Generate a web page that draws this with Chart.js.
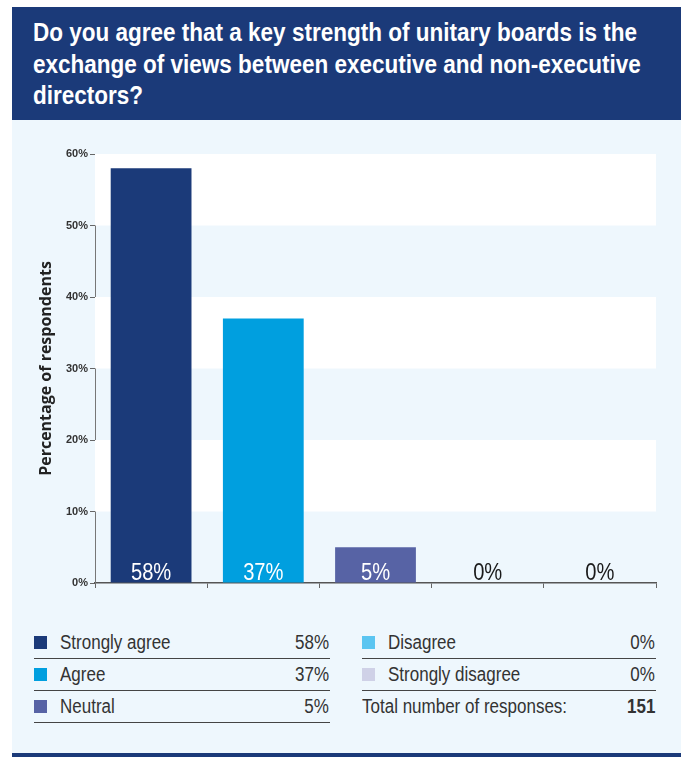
<!DOCTYPE html>
<html>
<head>
<meta charset="utf-8">
<script src="https://cdn.jsdelivr.net/npm/chart.js@4"></script>
<style>
  body { margin: 0; background: #fff; }
  #page { position: relative; width: 681px; height: 758px; font-family: "Liberation Sans", Arial, sans-serif; }
  #title { position: absolute; left: 12px; top: 7px; width: 669px; height: 113px; background: #1b3a79; color: #fff;
    font-weight: bold; font-size: 25px; line-height: 31.5px; box-sizing: border-box; padding: 10px 0 0 21px; overflow: hidden; }
  #title span { display: block; width: max-content; white-space: nowrap; transform-origin: left center; }
  #panel { position: absolute; left: 12px; top: 120px; width: 669px; height: 633px; background: #eef7fd; }
  #rule { position: absolute; left: 12px; top: 753px; width: 669px; height: 4px; background: #1b3a79; }
  #chartBox { position: absolute; left: 12px; top: 120px; width: 669px; height: 483px; }
  .col { position: absolute; top: 627px; }
  .row { position: relative; height: 31px; border-bottom: 1px solid #444; font-size: 20px; color: #333; }
  .row.last-plain { border-bottom: none; }
  .sw { position: absolute; left: 0; top: 9px; width: 13px; height: 13px; }
  .lbl { position: absolute; left: 26px; top: 4px; white-space: nowrap; transform: scaleX(0.85); transform-origin: left center; }
  .val { position: absolute; right: 1px; top: 4px; white-space: nowrap; transform: scaleX(0.85); transform-origin: right center; }
</style>
</head>
<body>
<div id="page">
  <div id="title"><span>Do you agree that a key strength of unitary boards is the</span><span>exchange of views between executive and non-executive</span><span>directors?</span></div>
  <div id="panel"></div>
  <div id="chartBox"><canvas id="chart"></canvas></div>
  <div class="col" id="leftCol" style="left:34px;width:296px;"></div>
  <div class="col" id="rightCol" style="left:362px;width:294px;"></div>
  <div id="rule"></div>
</div>
<script>
let categories = ["Strongly agree", "Agree", "Neutral", "Disagree", "Strongly disagree"];
let values = [58, 37, 5, 0, 0];
let yTicks = [0, 10, 20, 30, 40, 50, 60];
let totalResponses = 151;

let barColors = ["#1b3a79", "#009fdf", "#5763a5", "#5bc5f1", "#cfd1e7"];
let labelColors = ["#fff", "#fff", "#fff", "#1a1a1a", "#1a1a1a"];
let sans = '"Liberation Sans", Arial, sans-serif';

// squeeze the title to the condensed width of the original
let spans = document.querySelectorAll("#title span");
let k = 604 / spans[0].getBoundingClientRect().width;
spans.forEach(s => s.style.transform = `scaleX(${k})`);

// Legend table
function addRow(col, i) {
  let row = document.createElement("div");
  row.className = "row";
  row.innerHTML = `<div class="sw" style="background:${barColors[i]}"></div>
    <div class="lbl">${categories[i]}</div><div class="val">${values[i]}%</div>`;
  col.appendChild(row);
}
let leftCol = document.getElementById("leftCol");
let rightCol = document.getElementById("rightCol");
addRow(leftCol, 0); addRow(leftCol, 1); addRow(leftCol, 2);
addRow(rightCol, 3); addRow(rightCol, 4);
let totalRow = document.createElement("div");
totalRow.className = "row last-plain";
totalRow.innerHTML = `<div class="lbl" style="left:0">Total number of responses:</div>
  <div class="val" style="font-weight:bold">${totalResponses}</div>`;
rightCol.appendChild(totalRow);

// white bands behind the bars (50-60, 30-40, 10-20)
const bands = {
  id: "bands",
  beforeDatasetsDraw(chart) {
    let ctx = chart.ctx, a = chart.chartArea, y = chart.scales.y;
    ctx.save();
    ctx.fillStyle = "#ffffff";
    for (let i = 1; i < yTicks.length - 1; i += 2) {
      let top = y.getPixelForValue(yTicks[i + 1]);
      let bot = y.getPixelForValue(yTicks[i]);
      ctx.fillRect(a.left, top, a.right - a.left, bot - top);
    }
    ctx.restore();
  }
};

// percent labels at the foot of each bar
const barLabels = {
  id: "barLabels",
  afterDatasetsDraw(chart) {
    let ctx = chart.ctx, meta = chart.getDatasetMeta(0), y = chart.scales.y;
    meta.data.forEach((bar, i) => {
      ctx.save();
      ctx.translate(bar.x, y.getPixelForValue(0) - 3);
      ctx.scale(0.84, 1);
      ctx.font = "24px " + sans;
      ctx.textAlign = "center";
      ctx.textBaseline = "alphabetic";
      ctx.fillStyle = labelColors[i];
      ctx.fillText(values[i] + "%", 0, 0);
      ctx.restore();
    });
  }
};

new Chart(document.getElementById("chart"), {
  type: "bar",
  data: {
    labels: categories,
    datasets: [{
      data: values,
      backgroundColor: barColors,
      categoryPercentage: 1,
      barPercentage: 0.72
    }]
  },
  options: {
    responsive: true,
    maintainAspectRatio: false,
    animation: false,
    layout: { padding: { left: 25, right: 25, top: 34, bottom: 0 } },
    plugins: { legend: { display: false }, tooltip: { enabled: false } },
    scales: {
      x: {
        grid: { display: true, drawOnChartArea: false, drawTicks: true, tickLength: 5, color: "#666", offset: true },
        border: { display: true, color: "#555", width: 1.5 },
        ticks: { display: false },
        afterFit(s) { s.height = 20; }
      },
      y: {
        min: 0, max: 60,
        afterBuildTicks(s) { s.ticks = yTicks.map(v => ({ value: v })); },
        grid: { display: true, drawOnChartArea: false, drawTicks: true, tickLength: 5, color: "#666" },
        border: { display: true, color: "#777", width: 1 },
        ticks: {
          padding: 2,
          color: "#333",
          font: { family: sans, size: 11, weight: "bold" },
          callback: v => v + "%"
        },
        title: {
          display: true,
          text: "Percentage of respondents",
          color: "#222",
          font: { family: '"Open Sans", sans-serif', size: 16, weight: "bold" },
          padding: 0
        },
        afterFit(s) { s.width = 58; }
      }
    }
  },
  plugins: [bands, barLabels]
});
</script>
</body>
</html>
